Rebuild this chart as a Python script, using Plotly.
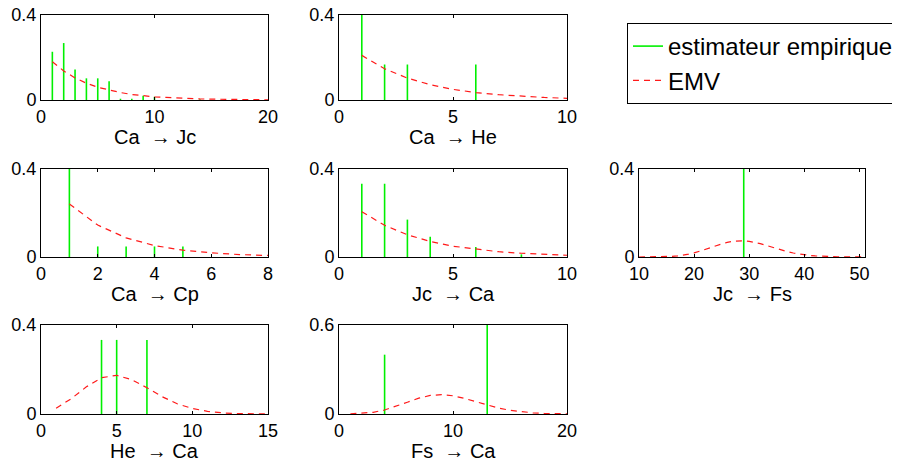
import plotly.graph_objects as go

# ---------------- data ----------------
titles = ["Ca\u00a0 \u2192 Jc", "Ca\u00a0 \u2192 He", "Ca\u00a0 \u2192 Cp", "Jc\u00a0 \u2192 Ca",
          "Jc\u00a0 \u2192 Fs", "He\u00a0 \u2192 Ca", "Fs\u00a0 \u2192 Ca"]

# empirical estimator (stems)
emp_cajc_x = [1, 2, 3, 4, 5, 6, 7, 8, 9, 10, 14]
emp_cajc_y = [0.227, 0.268, 0.143, 0.102, 0.102, 0.088, 0.006, 0.006, 0.02, 0.015, 0.003]
emp_cahe_x = [1, 2, 3, 6]
emp_cahe_y = [0.5, 0.167, 0.167, 0.167]
emp_cacp_x = [1, 2, 3, 4, 5]
emp_cacp_y = [0.8, 0.048, 0.048, 0.048, 0.048]
emp_jcca_x = [1, 2, 3, 4, 6, 8]
emp_jcca_y = [0.333, 0.333, 0.17, 0.092, 0.045, 0.012]
emp_jcfs_x = [29]
emp_jcfs_y = [1.0]
emp_heca_x = [4, 5, 7]
emp_heca_y = [0.333, 0.333, 0.333]
emp_fsca_x = [4, 13]
emp_fsca_y = [0.4, 0.6]

# EMV (maximum likelihood fit)
emv_cajc_x = list(range(1, 21))
emv_cajc_y = [0.180, 0.137, 0.104, 0.079, 0.060, 0.046, 0.035, 0.026, 0.020, 0.015,
              0.012, 0.009, 0.007, 0.005, 0.004, 0.003, 0.002, 0.002, 0.001, 0.001]
emv_cahe_x = list(range(1, 11))
emv_cahe_y = [0.210, 0.147, 0.103, 0.072, 0.050, 0.035, 0.025, 0.017, 0.012, 0.008]
emv_cacp_x = list(range(1, 9))
emv_cacp_y = [0.241, 0.145, 0.087, 0.052, 0.031, 0.019, 0.011, 0.007]
emv_jcca_x = list(range(1, 11))
emv_jcca_y = [0.206, 0.144, 0.101, 0.071, 0.049, 0.035, 0.024, 0.017, 0.012, 0.008]
emv_jcfs_x = list(range(10, 52))
emv_jcfs_y = [0.00003, 0.00008, 0.00019, 0.00042, 0.00087, 0.00168, 0.00304, 0.00519,
              0.00836, 0.01276, 0.01850, 0.02555, 0.03368, 0.04247, 0.05132, 0.05953,
              0.06640, 0.07132, 0.07387, 0.07387, 0.07141, 0.06680, 0.06054, 0.05320,
              0.04538, 0.03760, 0.03029, 0.02374, 0.01812, 0.01347, 0.00977, 0.00691,
              0.00477, 0.00322, 0.00212, 0.00137, 0.00086, 0.00053, 0.00032, 0.00019,
              0.00011, 0.00006]
emv_heca_x = list(range(1, 16))
emv_heca_y = [0.026, 0.069, 0.122, 0.163, 0.174, 0.154, 0.118, 0.078, 0.046, 0.025,
              0.012, 0.005, 0.002, 0.001, 0.0003]
emv_fsca_x = list(range(1, 21))
emv_fsca_y = [0.0008, 0.0037, 0.0115, 0.0269, 0.0506, 0.0793, 0.1065, 0.1251, 0.1307, 0.1228,
              0.1050, 0.0822, 0.0595, 0.0399, 0.0250, 0.0147, 0.0081, 0.0042, 0.0021, 0.0010]

x_ranges = [[0, 20], [0, 10], [0, 8], [0, 10], [10, 51], [0, 15], [0, 20]]
x_dticks = [10, 5, 2, 5, 10, 5, 10]
x_tick0 = [0, 0, 0, 0, 10, 0, 0]
y_tops = [0.4, 0.4, 0.4, 0.4, 0.4, 0.4, 0.6]

emp_sets = [(emp_cajc_x, emp_cajc_y), (emp_cahe_x, emp_cahe_y), (emp_cacp_x, emp_cacp_y),
            (emp_jcca_x, emp_jcca_y), (emp_jcfs_x, emp_jcfs_y), (emp_heca_x, emp_heca_y),
            (emp_fsca_x, emp_fsca_y)]
emv_sets = [(emv_cajc_x, emv_cajc_y), (emv_cahe_x, emv_cahe_y), (emv_cacp_x, emv_cacp_y),
            (emv_jcca_x, emv_jcca_y), (emv_jcfs_x, emv_jcfs_y), (emv_heca_x, emv_heca_y),
            (emv_fsca_x, emv_fsca_y)]

# ---------------- layout geometry ----------------
# page body has an 8px margin, so the figure is 8px smaller and positions are page px - 8
OFF = 8
W, H = 900 - OFF, 467 - OFF
col_px = [(41, 268), (339, 567), (639, 865)]
row_px = [(15, 100), (169, 257), (325, 414)]
title_py = [137, 294, 451]
positions = [(0, 0), (0, 1), (1, 0), (1, 1), (1, 2), (2, 0), (2, 1)]

FONT = "Liberation Sans, Arial, Helvetica, sans-serif"
GREEN = "#00f000"
RED = "#ff1a1a"

fig = go.Figure()
layout = {}
annotations = []
for i, ((r, c), (ex, ey), (mx, my)) in enumerate(zip(positions, emp_sets, emv_sets)):
    n = "" if i == 0 else str(i + 1)
    xa, ya = "x" + n, "y" + n
    sx, sy = [], []
    for xv, yv in zip(ex, ey):
        sx += [xv, xv, None]
        sy += [0, yv, None]
    fig.add_trace(go.Scatter(x=sx, y=sy, mode="lines", xaxis=xa, yaxis=ya,
                             line=dict(color=GREEN, width=1.6),
                             name="estimateur empirique",
                             showlegend=(i == 0), hoverinfo="skip"))
    fig.add_trace(go.Scatter(x=mx, y=my, mode="lines", xaxis=xa, yaxis=ya,
                             line=dict(color=RED, width=1.2, dash="6px,5px"),
                             name="EMV",
                             showlegend=(i == 0)))
    x0, x1 = col_px[c]
    y0, y1 = row_px[r]
    common = dict(showline=True, linecolor="black", linewidth=1, mirror="ticks",
                  ticks="inside", ticklen=3, tickcolor="black", showgrid=False,
                  zeroline=False, automargin=False, ticklabeloverflow="allow",
                  tickfont=dict(family=FONT, size=18, color="black"))
    layout["xaxis" + n] = dict(domain=[(x0 - OFF) / W, (x1 - OFF) / W], anchor=ya,
                               range=x_ranges[i], tick0=x_tick0[i], dtick=x_dticks[i],
                               **common)
    layout["yaxis" + n] = dict(domain=[1 - (y1 - OFF) / H, 1 - (y0 - OFF) / H], anchor=xa,
                               range=[0, y_tops[i]], tickvals=[0, y_tops[i]],
                               ticktext=["0", f"{y_tops[i]:g}"], **common)
    annotations.append(dict(text=titles[i], xref="paper", yref="paper",
                            x=((x0 + x1) / 2 - OFF) / W, y=1 - (title_py[r] - OFF) / H,
                            xanchor="center", yanchor="middle", showarrow=False,
                            font=dict(family=FONT, size=20, color="black")))

fig.update_layout(**layout)
fig.update_layout(
    width=W, height=H,
    margin=dict(l=0, r=0, t=0, b=0),
    paper_bgcolor="white", plot_bgcolor="white",
    font=dict(family=FONT, color="black"),
    annotations=annotations,
    legend=dict(x=(627 - OFF) / W, y=1 - (23 - OFF) / H, xanchor="left", yanchor="top",
                bordercolor="black", borderwidth=1, bgcolor="white",
                font=dict(family=FONT, size=24, color="black"),
                tracegroupgap=0),
)

fig.write_html("out.html")
